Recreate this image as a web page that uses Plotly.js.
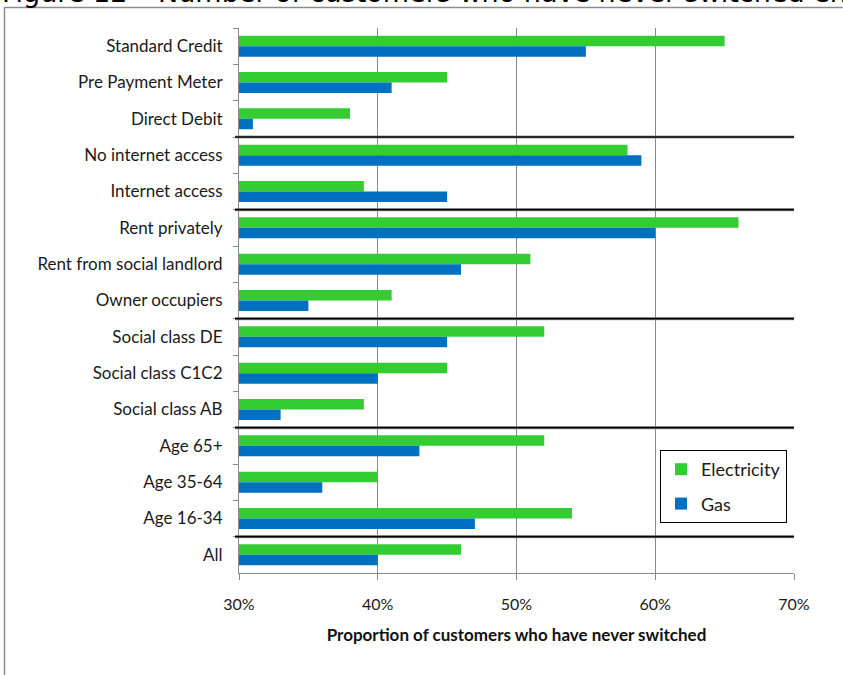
<!DOCTYPE html>
<html>
<head>
<meta charset="utf-8">
<script src="https://cdn.plot.ly/plotly-3.0.1.min.js"></script>
<style>
  html, body { margin: 0; padding: 0; background: #fff; }
  #chart { width: 843px; height: 675px; }
</style>
</head>
<body>
<div id="chart"></div>
<script>
// Customer groups, top to bottom
const categories = [
  "Standard Credit", "Pre Payment Meter", "Direct Debit",
  "No internet access", "Internet access",
  "Rent privately", "Rent from social landlord", "Owner occupiers",
  "Social class DE", "Social class C1C2", "Social class AB",
  "Age 65+", "Age 35-64", "Age 16-34",
  "All"
];

// Share of customers who have never switched (%)
const electricity = [65, 45, 38, 58, 39, 66, 51, 41, 52, 45, 39, 52, 40, 54, 46];
const gas         = [55, 41, 31, 59, 45, 60, 46, 35, 45, 40, 33, 43, 36, 47, 40];

// Group separators sit between these category indices
const separators = [2.5, 4.5, 7.5, 10.5, 13.5];

const xTicks = [30, 40, 50, 60, 70];
const xTickText = ["30%", "40%", "50%", "60%", "70%"];

const fam = "Lato, 'Open Sans', sans-serif";
const labelFont = { family: fam, size: 17, color: "#1a1a1a" };

const traces = [
  {
    type: "bar", orientation: "h", name: "Electricity",
    y: categories, x: electricity,
    marker: { color: "#33cc33" },
    legendgroup: "e", hoverinfo: "x+y"
  },
  {
    type: "bar", orientation: "h", name: "Gas",
    y: categories, x: gas,
    marker: { color: "#0070c0" },
    legendgroup: "g", hoverinfo: "x+y"
  }
];

const shapes = [];
separators.forEach(v => {
  // dark rule with a soft grey edge underneath
  shapes.push({
    type: "line", xref: "paper", yref: "y",
    x0: -0.007, x1: 1.0, y0: v, y1: v,
    line: { color: "#9a9a9a", width: 3 }
  });
  shapes.push({
    type: "line", xref: "paper", yref: "y",
    x0: -0.007, x1: 1.0, y0: v, y1: v,
    line: { color: "#000", width: 1.6 }
  });
});

// outer frame around the figure
shapes.push({
  type: "rect", xref: "paper", yref: "paper",
  x0: -0.4225, x1: 1.2, y0: -0.4, y1: 1.0376,
  line: { color: "#8c8c8c", width: 1.5 },
  fillcolor: "rgba(0,0,0,0)", layer: "below"
});

const layout = {
  width: 843, height: 675,
  margin: { l: 239, r: 49, t: 28, b: 102, pad: 0 },
  paper_bgcolor: "#fff", plot_bgcolor: "#fff",
  barmode: "group", bargap: 0.42, bargroupgap: 0,
  font: labelFont,
  showlegend: true,
  legend: {
    x: 0.7586, y: 0.2257, xanchor: "left", yanchor: "top",
    bordercolor: "#000", borderwidth: 1, bgcolor: "#fff",
    font: { family: fam, size: 18, color: "#1a1a1a" },
    traceorder: "grouped", tracegroupgap: 8,
    itemwidth: 30
  },
  xaxis: {
    range: [30, 70],
    tickvals: xTicks, ticktext: xTickText,
    showgrid: true, gridcolor: "#8a8a8a", gridwidth: 1,
    zeroline: false,
    showline: true, linecolor: "#8a8a8a", linewidth: 1,
    ticks: "outside", ticklen: 6, tickcolor: "#8a8a8a",
    ticklabelstandoff: 11,
    tickfont: { family: fam, size: 16, color: "#1a1a1a" },
    title: {
      text: "<b>Proportion of customers who have never switched</b>",
      font: { family: fam, size: 17, color: "#111" },
      standoff: 16
    },
    fixedrange: true
  },
  yaxis: {
    type: "category",
    autorange: "reversed",
    showgrid: false, zeroline: false,
    showline: true, linecolor: "#8a8a8a", linewidth: 1,
    ticks: "outside", ticklen: 5, tickcolor: "#8a8a8a",
    tickson: "boundaries",
    ticklabelstandoff: 12,
    tickfont: labelFont,
    fixedrange: true
  },
  shapes: shapes,
  annotations: [{
    xref: "paper", yref: "paper",
    x: -0.4306, y: 1.0660, xanchor: "left", yanchor: "middle",
    text: "Figure 12 – Number of customers who have never switched energy supplier",
    showarrow: false,
    font: { family: "'DejaVu Sans', sans-serif", size: 27, color: "#000" }
  }]
};

Plotly.newPlot("chart", traces, layout, { displayModeBar: false, staticPlot: true });
</script>
</body>
</html>
